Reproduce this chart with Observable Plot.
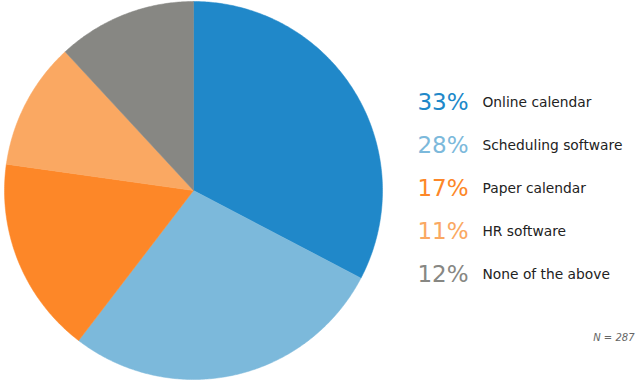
<!DOCTYPE html>
<html>
<head>
<meta charset="utf-8">
<script src="https://cdn.jsdelivr.net/npm/d3@7"></script>
<script src="https://cdn.jsdelivr.net/npm/@observablehq/plot@0.6"></script>
<style>
  html, body { margin: 0; padding: 0; background: #fff; }
  #chart { position: relative; width: 642px; height: 384px; }
  #chart svg { position: absolute; top: 0; }
</style>
</head>
<body>
<div id="chart"></div>
<script>
const categories = ["Online calendar", "Scheduling software", "Paper calendar", "HR software", "None of the above"];
const percents = [33, 28, 17, 11, 12];
const colors = ["#2088c9", "#7cb9db", "#fd8728", "#faa862", "#878783"];
const sampleSize = "N = 287";

const rows = categories.map((c, i) => ({category: c, value: percents[i], label: percents[i] + "%"}));

// compute wedge outlines from the data with d3.pie (normalised like the original)
const arcs = d3.pie().sort(null).value(d => d.value)(rows);
const wedgePts = [];
arcs.forEach(a => {
  const n = Math.max(2, Math.ceil((a.endAngle - a.startAngle) / 0.01));
  wedgePts.push({category: a.data.category, x: 0, y: 0});
  for (let k = 0; k <= n; k++) {
    const t = a.startAngle + (a.endAngle - a.startAngle) * k / n;
    wedgePts.push({category: a.data.category, x: Math.sin(t), y: Math.cos(t)});
  }
  wedgePts.push({category: a.data.category, x: 0, y: 0});
});

const pie = Plot.plot({
  width: 642,
  height: 384,
  margin: 0,
  x: {domain: [-1, 1], range: [4, 382], axis: null},
  y: {domain: [-1, 1], range: [379, 1], axis: null},
  color: {domain: categories, range: colors},
  marks: [
    Plot.line(wedgePts, {x: "x", y: "y", z: "category", fill: "category", stroke: "category", strokeWidth: 0.5, curve: "linear"})
  ]
});
pie.style.left = "0px";
document.getElementById("chart").appendChild(pie);

const legend = Plot.plot({
  width: 232,
  height: 384,
  margin: 0,
  style: {fontFamily: "'DejaVu Sans', Verdana, sans-serif", background: "transparent"},
  x: {axis: null},
  y: {type: "point", domain: categories, range: [101, 274], padding: 0, axis: null},
  color: {domain: categories, range: colors},
  marks: [
    Plot.text(rows, {y: "category", text: "label", fill: "category", frameAnchor: "left", dx: 58, textAnchor: "end", fontSize: 23}),
    Plot.text(rows, {y: "category", text: "category", fill: "#222", frameAnchor: "left", dx: 72, textAnchor: "start", fontSize: 13.8}),
    Plot.text([sampleSize], {text: d => d, frameAnchor: "top-right", dx: -8, dy: 333, fill: "#666", fontSize: 10, fontStyle: "italic"})
  ]
});
legend.style.left = "410px";
document.getElementById("chart").appendChild(legend);
</script>
</body>
</html>
